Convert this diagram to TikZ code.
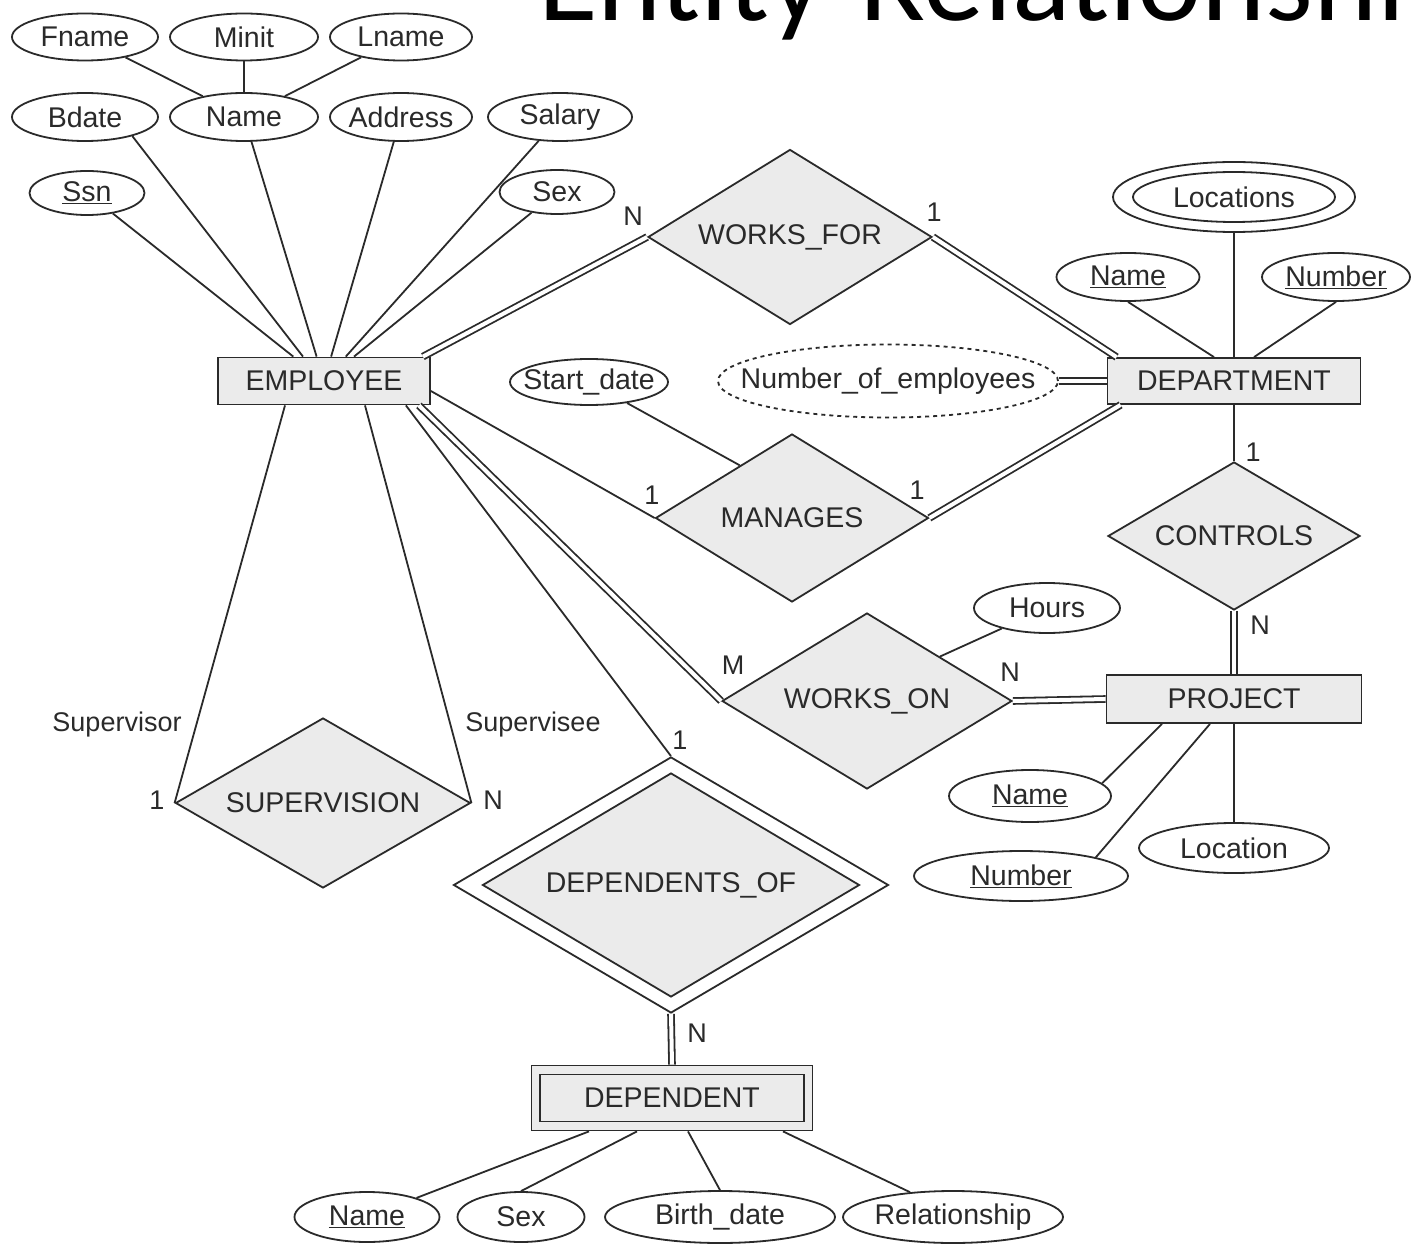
\documentclass[tikz,border=0pt]{standalone}
\usepackage{fontspec}
\setmainfont{Liberation Sans}
\newfontfamily\titlefont{Carlito}
\usetikzlibrary{shapes.geometric,calc}
\definecolor{ink}{HTML}{2A2A2A}
\definecolor{boxfill}{HTML}{EBEBEB}
\begin{document}
\begin{tikzpicture}[x=1pt,y=-1pt,
  every node/.style={text=ink, font=\fontsize{28.5}{30}\selectfont},
  conn/.style={draw=ink, line width=1.8pt},
  total/.style={draw=ink, line width=1.8pt, double=white, double distance=4pt},
  attr/.style={ellipse, draw=ink, line width=1.8pt, fill=white, inner sep=0pt},
  entity/.style={rectangle, draw=ink, line width=1.8pt, fill=boxfill, inner sep=0pt},
  rel/.style={diamond, draw=ink, line width=1.8pt, fill=boxfill, inner sep=0pt},
  card/.style={inner sep=0pt, font=\fontsize{27}{29}\selectfont},
]
\useasboundingbox (0,0) rectangle (1411,1246);
\fill[white] (0,0) rectangle (1411,1246);

% slide title, only its lower part lies inside the frame
\begin{scope}
  \clip (0,0) rectangle (1411,1246);
  \node[anchor=base west, inner sep=0pt, text=black,
        font=\titlefont\fontsize{122}{122}\selectfont] (title) at (538,21) {Entity-Relationship};
\end{scope}

% ---------------- EMPLOYEE ----------------
\node[entity, minimum width=212pt, minimum height=47pt] (emp) at (324,381) {EMPLOYEE};
\node[attr, minimum width=146pt, minimum height=47pt] (fname) at (85,37) {\makebox[0pt]{Fname}};
\node[attr, minimum width=148pt, minimum height=47pt] (minit) at (244,37) {\makebox[0pt]{Minit}};
\node[attr, minimum width=142pt, minimum height=47pt] (lname) at (401,37) {\makebox[0pt]{Lname}};
\node[attr, minimum width=146pt, minimum height=48pt] (bdate) at (85,117) {\makebox[0pt]{Bdate}};
\node[attr, minimum width=148pt, minimum height=48pt] (ename) at (244,117) {\makebox[0pt]{Name}};
\node[attr, minimum width=142pt, minimum height=48pt] (address) at (401,117) {\makebox[0pt]{Address}};
\node[attr, minimum width=144pt, minimum height=48pt] (salary) at (560,117) {\makebox[0pt]{Salary}};
\node[attr, minimum width=115pt, minimum height=44pt] (ssn) at (87,193) {\makebox[0pt]{\underline{Ssn}}};
\node[attr, minimum width=115pt, minimum height=44pt] (esex) at (557,192) {\makebox[0pt]{Sex}};

% ---------------- DEPARTMENT ----------------
\node[entity, minimum width=253pt, minimum height=46pt] (dept) at (1234,381) {DEPARTMENT};
\node[attr, minimum width=242pt, minimum height=70pt] (dlocout) at (1234,197) {};
\node[attr, minimum width=202pt, minimum height=50pt] (dloc) at (1234,197) {\makebox[0pt]{Locations}};
\node[attr, minimum width=143pt, minimum height=48pt] (dname) at (1128,277) {\makebox[0pt]{\underline{Name}}};
\node[attr, minimum width=148pt, minimum height=48pt] (dnumber) at (1336,277) {\makebox[0pt]{\underline{Number}}};
\node[attr, dash pattern=on 4pt off 4pt, minimum width=340pt, minimum height=73pt] (noe) at (888,381) {\makebox[0pt]{Number\_of\_employees}};

% ---------------- relationships ----------------
\node[rel, minimum width=284pt, minimum height=175pt] (wf) at (790,237) {\makebox[0pt]{WORKS\_FOR}};
\node[rel, minimum width=273pt, minimum height=168pt] (man) at (792,518) {\makebox[0pt]{MANAGES}};
\node[attr, minimum width=158pt, minimum height=46pt] (startdate) at (589,382) {\makebox[0pt]{Start\_date}};
\node[rel, minimum width=252pt, minimum height=148pt] (ctrl) at (1234,536) {\makebox[0pt]{CONTROLS}};
\node[rel, minimum width=290pt, minimum height=176pt] (won) at (867,701) {\makebox[0pt]{WORKS\_ON}};
\node[attr, minimum width=146pt, minimum height=50pt] (hours) at (1047,608) {\makebox[0pt]{Hours}};
\node[rel, minimum width=295pt, minimum height=170pt] (sup) at (323,803) {\makebox[0pt]{SUPERVISION}};

% ---------------- PROJECT ----------------
\node[entity, minimum width=255pt, minimum height=48pt] (proj) at (1234,699) {PROJECT};
\node[attr, minimum width=162pt, minimum height=52pt] (pname) at (1030,796) {\makebox[0pt]{\underline{Name}}};
\node[attr, minimum width=214pt, minimum height=50pt] (pnumber) at (1021,876) {\makebox[0pt]{\underline{Number}}};
\node[attr, minimum width=190pt, minimum height=50pt] (ploc) at (1234,848) {\makebox[0pt]{Location}};

% ---------------- DEPENDENT ----------------
\node[rel, fill=white, minimum width=435pt, minimum height=256pt] (depofout) at (671,885) {};
\node[rel, minimum width=377pt, minimum height=224pt] (depof) at (671,885) {\makebox[0pt]{DEPENDENTS\_OF}};
\node[entity, minimum width=281pt, minimum height=65pt] (depout) at (672,1098) {};
\node[entity, minimum width=264pt, minimum height=47pt] (dep) at (672,1098) {DEPENDENT};
\node[attr, minimum width=145pt, minimum height=50pt] (ddname) at (367,1217) {\makebox[0pt]{\underline{Name}}};
\node[attr, minimum width=127pt, minimum height=50pt] (ddsex) at (521,1217) {\makebox[0pt]{Sex}};
\node[attr, minimum width=230pt, minimum height=52pt] (bdate2) at (720,1217) {\makebox[0pt]{Birth\_date}};
\node[attr, minimum width=220pt, minimum height=52pt] (relship) at (953,1217) {\makebox[0pt]{Relationship}};

% ---------------- connectors ----------------
\draw[conn] (fname) -- (ename);
\draw[conn] (minit) -- (ename);
\draw[conn] (lname) -- (ename);
\draw[conn] (ssn) -- (emp);
\draw[conn] (bdate.-22) -- ([xshift=-21pt]emp.north);
\draw[conn] (ename) -- (emp);
\draw[conn] (address) -- (emp);
\draw[conn] (salary) -- (emp);
\draw[conn] (esex) -- (emp);

\draw[total] ([xshift=-8pt]emp.north east) -- (wf.west);
\draw[total] (wf.east) -- ([xshift=10pt]dept.north west);
\draw[conn] ([yshift=-10pt]emp.east) -- (man.west);
\draw[total] (man.east) -- ([xshift=14pt]dept.south west);
\draw[conn] (startdate) -- ($(man.west)!0.62!(man.north)$);
\draw[total] (noe) -- (dept.west);
\draw[conn] (dlocout) -- (dept);
\draw[conn] (dname.south) -- ([xshift=-20pt]dept.north);
\draw[conn] (dnumber.south) -- ([xshift=20pt]dept.north);
\draw[conn] (dept) -- (ctrl);
\draw[total] (ctrl.south) -- (proj.north);
\draw[total] (won.east) -- (proj.west);
\draw[conn] (hours) -- (won.north east);
\draw[total] ([xshift=-12pt]emp.south east) -- (won.west);
\draw[conn] ([xshift=-25pt]emp.south east) -- (depofout.north);
\draw[conn] ([xshift=-39pt]emp.south) -- (sup.west);
\draw[conn] ([xshift=41pt]emp.south) -- (sup.east);
\draw[total] (depofout.south) -- (depout.north);
\draw[conn] (pname.10) -- ([xshift=-72pt]proj.south);
\draw[conn] (pnumber.14) -- ([xshift=-24pt]proj.south);
\draw[conn] (ploc) -- (proj);
\draw[conn] (ddname) -- ([xshift=-83pt]depout.south);
\draw[conn] (ddsex.north) -- ([xshift=-35pt]depout.south);
\draw[conn] (bdate2.north) -- ([xshift=16pt]depout.south);
\draw[conn] (relship.150) -- ([xshift=111pt]depout.south);

% ---------------- cardinalities and roles ----------------
\node[card] (c1) at (633,216) {N};
\node[card] (c2) at (934,212) {1};
\node[card] (c3) at (652,495) {1};
\node[card] (c4) at (917,490) {1};
\node[card] (c5) at (1253,452) {1};
\node[card] (c6) at (1260,625) {N};
\node[card] (c7) at (733,665) {M};
\node[card] (c8) at (1010,672) {N};
\node[card] (c9) at (157,800) {1};
\node[card] (c10) at (493,800) {N};
\node[card] (c11) at (680,740) {1};
\node[card] (c12) at (697,1033) {N};
\node[card] (r1) at (117,725) {Supervisor};
\node[card] (r2) at (533,725) {Supervisee};
\end{tikzpicture}
\end{document}
